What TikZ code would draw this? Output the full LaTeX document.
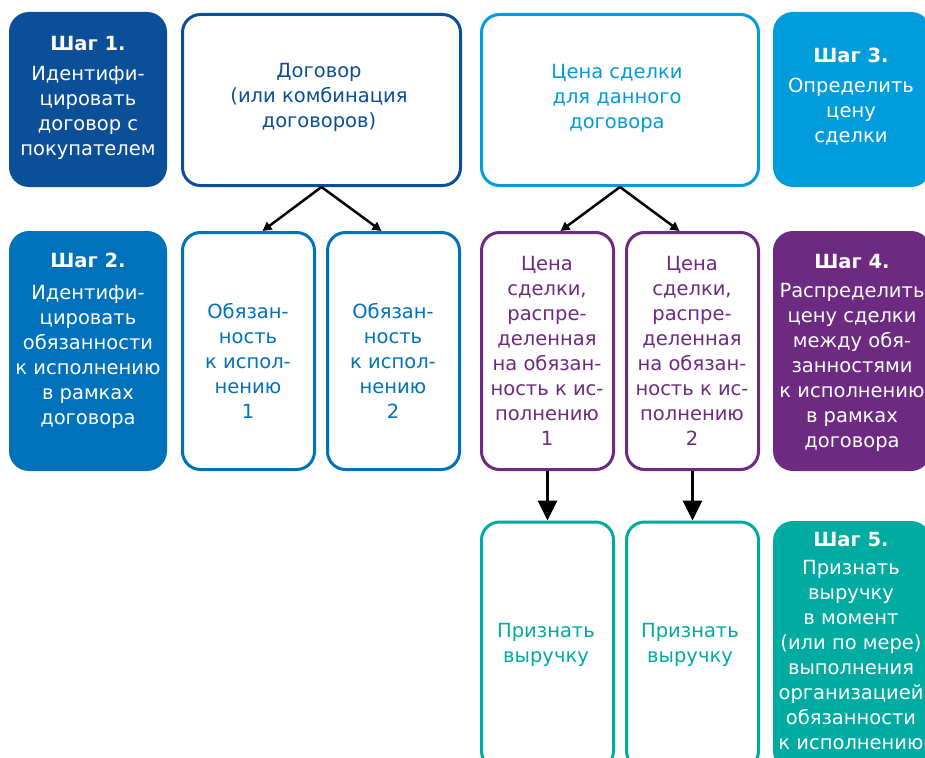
\documentclass[tikz,border=0pt]{standalone}
\usepackage{fontspec}
\setmainfont{DejaVu Sans}
\usetikzlibrary{arrows.meta}
\definecolor{sone}{HTML}{0A4F98}
\definecolor{stwo}{HTML}{0071BB}
\definecolor{sthree}{HTML}{009CDB}
\definecolor{sfour}{HTML}{6C2A80}
\definecolor{sfive}{HTML}{00ABA1}
\tikzset{
  stepbox/.style={rounded corners=20pt, draw=none, minimum width=158pt, inner sep=0pt},
  outbox/.style={rounded corners=18pt, line width=3pt, fill=white, inner sep=0pt},
  txt/.style={align=center, inner sep=0pt, font=\fontsize{19.5}{25}\selectfont},
  thin arrow/.style={line width=2.5pt, -{Triangle[length=9pt,width=9pt]}},
  thick arrow/.style={line width=3pt, -{Triangle[length=20pt,width=19pt]}}
}
\begin{document}
\begin{tikzpicture}[x=1pt,y=-1pt]
\useasboundingbox (0,0) rectangle (925,757);
\clip (0,0) rectangle (925,757);
% Row 1
\node[stepbox, fill=sone, minimum height=175pt] (s1) at (88,99.5) {};
\node[outbox, draw=sone, minimum width=278pt, minimum height=171pt] (ct) at (321.5,100) {};
\node[outbox, draw=sthree, minimum width=277pt, minimum height=171pt] (pr) at (620,100) {};
\node[stepbox, fill=sthree, minimum height=175pt] (s3) at (852,99.5) {};
% Row 2
\node[stepbox, fill=stwo, minimum height=240pt] (s2) at (88,351) {};
\node[outbox, draw=stwo, minimum width=132pt, minimum height=237pt] (o1) at (248.5,351) {};
\node[outbox, draw=stwo, minimum width=132pt, minimum height=237pt] (o2) at (393.5,351) {};
\node[outbox, draw=sfour, minimum width=132pt, minimum height=237pt] (p1) at (547.5,351) {};
\node[outbox, draw=sfour, minimum width=132pt, minimum height=237pt] (p2) at (692.5,351) {};
\node[stepbox, fill=sfour, minimum height=240pt] (s4) at (852,351) {};
% Row 3
\node[outbox, draw=sfive, minimum width=132pt, minimum height=247pt] (r1) at (547.5,645.5) {};
\node[outbox, draw=sfive, minimum width=132pt, minimum height=247pt] (r2) at (692.5,645.5) {};
\node[stepbox, fill=sfive, minimum height=250pt] (s5) at (852,646) {};
% Texts
\node[txt, text=white] (t1) at (88,97.5) {\textbf{Шаг 1.}\\[5pt]Идентифи-\\цировать\\договор с\\покупателем};
\node[txt, text=sone] (tct) at (319,97.5) {Договор\\(или комбинация\\договоров)};
\node[txt, text=sthree] (tpr) at (617,98) {Цена сделки\\для данного\\договора};
\node[txt, text=white] (t3) at (851,97) {\textbf{Шаг 3.}\\[5pt]Определить\\цену\\сделки};
\node[txt, text=white] (t2) at (88,341) {\textbf{Шаг 2.}\\[7pt]Идентифи-\\цировать\\обязанности\\к исполнению\\в рамках\\договора};
\node[txt, text=stwo] (to1) at (248,360.5) {Обязан-\\ность\\к испол-\\нению\\1};
\node[txt, text=stwo] (to2) at (393,360.5) {Обязан-\\ность\\к испол-\\нению\\2};
\node[txt, text=sfour] (tp1) at (547,350.5) {Цена\\сделки,\\распре-\\деленная\\на обязан-\\ность к ис-\\полнению\\1};
\node[txt, text=sfour] (tp2) at (692,350.5) {Цена\\сделки,\\распре-\\деленная\\на обязан-\\ность к ис-\\полнению\\2};
\node[txt, text=white] (t4) at (852,353) {\textbf{Шаг 4.}\\[4pt]Распределить\\цену сделки\\между обя-\\занностями\\к исполнению\\в рамках\\договора};
\node[txt, text=sfive] (tr1) at (546,645) {Признать\\выручку};
\node[txt, text=sfive] (tr2) at (690,645) {Признать\\выручку};
\node[txt, text=white] (t5) at (851,641.5) {\textbf{Шаг 5.}\\[3pt]Признать\\выручку\\в момент\\(или по мере)\\выполнения\\организацией\\обязанности\\к исполнению};
% Arrows
\draw[thin arrow] (ct.south) -- ([xshift=14pt]o1.north);
\draw[thin arrow] (ct.south) -- ([xshift=-12pt]o2.north);
\draw[thin arrow] (pr.south) -- ([xshift=13pt]p1.north);
\draw[thin arrow] (pr.south) -- ([xshift=-13pt]p2.north);
\draw[thick arrow] (p1.south) -- (r1.north);
\draw[thick arrow] (p2.south) -- (r2.north);
\end{tikzpicture}
\end{document}
